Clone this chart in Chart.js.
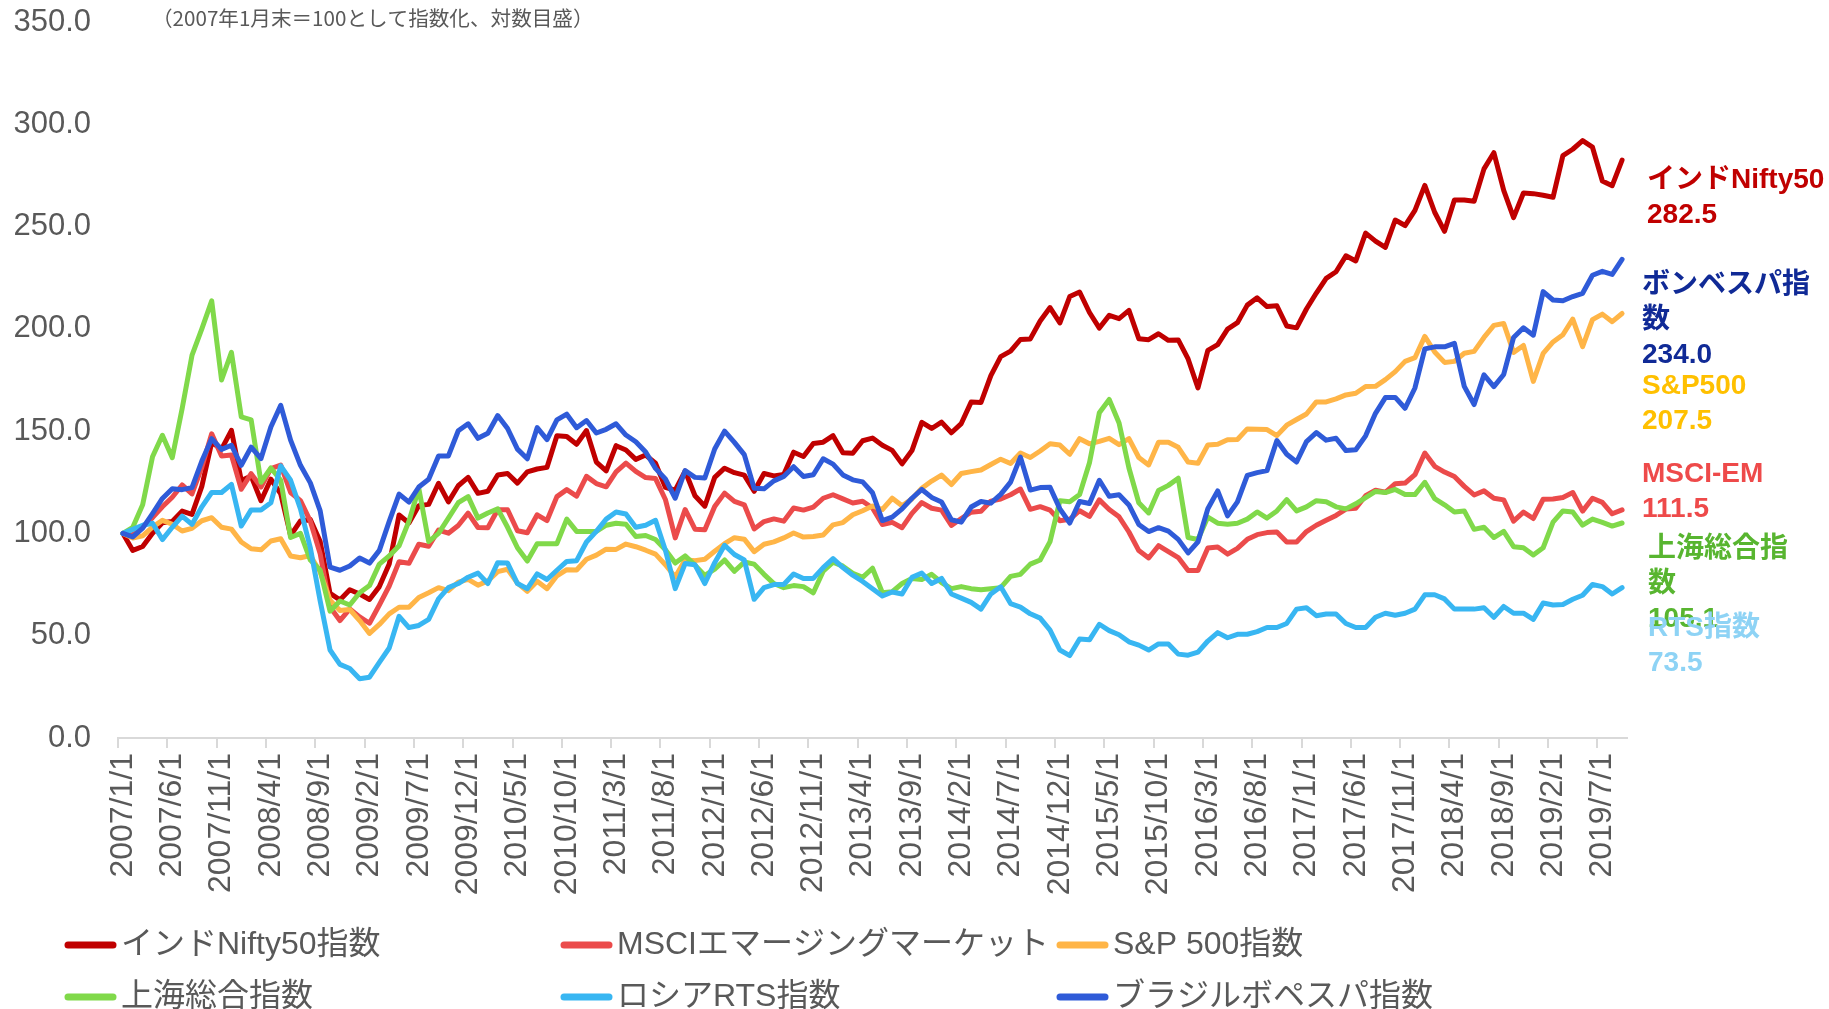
<!DOCTYPE html>
<html lang="ja">
<head>
<meta charset="utf-8">
<title>主要株価指数の推移</title>
<script src="https://cdn.jsdelivr.net/npm/chart.js@4.4.1/dist/chart.umd.min.js"></script>
<style>
  html, body { margin: 0; padding: 0; background: #fff; }
  #wrap { width: 1829px; height: 1009px; }
</style>
</head>
<body>
<div id="wrap"><canvas id="chart" width="1829" height="1009"></canvas></div>
<script>
// monthly categories 2007/1 .. 2019/9
const startYear = 2007, monthCount = 153;
const months = [];
for (let i = 0; i < monthCount; i++) {
  months.push(`${startYear + Math.floor(i / 12)}/${(i % 12) + 1}/1`);
}

const subtitle = "（2007年1月末＝100として指数化、対数目盛）";
const legendNames = ["インドNifty50指数", "MSCIエマージングマーケット", "S&P 500指数", "上海総合指数", "ロシアRTS指数", "ブラジルボペスパ指数"];

const nifty = [
  100, 91.7, 93.6, 100.1, 105.2, 105.8, 110.9, 109.3, 123, 144.5,
  141.2, 150.4, 125.8, 128, 116, 126.5, 119.3, 99, 106.1, 106.8,
  96, 70.7, 67.5, 72.5, 70.4, 67.7, 74, 85.1, 109, 105.1,
  113.6, 114.2, 124.5, 115.4, 123.3, 127.4, 119.6, 120.6, 128.6, 129.3,
  124.6, 130.1, 131.5, 132.3, 147.7, 147.4, 143.6, 150.3, 134.9, 130.6,
  142.9, 140.8, 136.2, 138.3, 134.3, 122.5, 121.1, 130.5, 118.4, 113.3,
  127.4, 131.9, 129.7, 128.5, 120.6, 129.3, 128.1, 128.8, 139.7, 137.6,
  144, 144.6, 147.8, 139.4, 139.2, 145.3, 146.6, 143.1, 140.6, 134,
  140.5, 154.3, 151.3, 154.4, 149.2, 153.7, 164.2, 164, 177.1, 186.4,
  189.1, 194.8, 195.1, 203.8, 210.4, 202.9, 215.8, 218, 208, 200.4,
  206.6, 205, 209, 195.2, 194.7, 197.6, 194.4, 194.6, 185.3, 171.1,
  189.5, 192.3, 199.9, 203, 211.6, 215.2, 210.9, 211.3, 201.4, 200.5,
  209.7, 217.5, 224.7, 227.9, 235.7, 233.2, 246.8, 242.9, 239.8, 253.2,
  250.5, 257.9, 270.1, 257, 247.7, 263, 263, 262.4, 278.2, 286.1,
  267.7, 254.4, 266.4, 266.1, 265.3, 264.3, 284.7, 287.8, 292, 288.8,
  272.3, 270, 282.5
];

const msciEm = [
  100, 99.3, 103, 107.7, 113, 117.7, 123.7, 119.3, 132.4, 148.7,
  137.8, 138.3, 121.6, 129.2, 122.7, 131.7, 133.4, 120, 116, 106,
  90, 64, 57.4, 63.1, 59.2, 56.1, 65, 74.3, 86.2, 85.4,
  94.7, 93.7, 101.6, 100.1, 103.9, 109.9, 102.9, 102.8, 111.6, 111.6,
  101.3, 100.3, 109.1, 106.3, 118, 121.4, 118.2, 127.9, 124.4, 122.8,
  130.1, 134.4, 130.3, 127.3, 126.8, 116.6, 97.8, 111.7, 102.1, 101.8,
  113.2, 119.7, 115.7, 114, 102.2, 105.8, 107.1, 106, 112.4, 111.4,
  112.9, 117.2, 118.9, 116.9, 114.9, 115.7, 112.4, 104.4, 105.4, 102.8,
  109.8, 115.1, 112.3, 111.4, 103.9, 107.3, 110.4, 110.8, 115.8, 116.8,
  118.9, 121.7, 111.8, 113.1, 111.4, 106.2, 106.9, 111.1, 108.3, 116.4,
  111.7, 108.1, 100.7, 91.6, 88, 94, 91.1, 88.2, 81.9, 81.9,
  92.9, 93.4, 89.9, 92.7, 97.1, 99.4, 100.4, 100.7, 95.8, 95.8,
  100.9, 104, 106.4, 108.8, 111.9, 112.3, 118.4, 121.1, 120.1, 124.3,
  124.6, 128.7, 139.3, 132.8, 130, 127.8, 123, 118.8, 120.8, 117.2,
  116.4, 106, 110.4, 107.3, 116.7, 116.8, 117.6, 120, 110.9, 117.2,
  115.2, 109.6, 111.5
];

const sp500 = [
  100, 97.8, 98.8, 103.1, 106.4, 104.5, 101.2, 102.5, 106.2, 107.7,
  103, 102.1, 95.8, 92.5, 92, 96.3, 97.4, 89, 88.1, 89.2,
  81.1, 67.4, 62.3, 62.8, 57.4, 51.1, 55.5, 60.7, 63.9, 63.9,
  68.7, 71, 73.5, 72, 76.2, 77.5, 74.7, 76.8, 81.3, 82.5,
  75.7, 71.7, 76.6, 73, 79.3, 82.3, 82.1, 87.4, 89.4, 92.3,
  92.2, 94.8, 93.5, 91.8, 89.9, 84.7, 78.7, 87.1, 86.7, 87.4,
  91.3, 95, 97.9, 97.2, 91.1, 94.7, 95.9, 97.8, 100.2, 98.2,
  98.5, 99.2, 104.2, 105.3, 109.1, 111.1, 113.4, 111.7, 117.2, 113.5,
  116.9, 122.1, 125.6, 128.5, 123.9, 129.3, 130.2, 131, 133.7, 136.3,
  134.2, 139.3, 137.1, 140.3, 143.8, 143.2, 138.7, 146.3, 143.8, 145,
  146.5, 143.4, 146.3, 137.1, 133.5, 144.6, 144.6, 142.1, 134.9, 134.3,
  143.2, 143.6, 145.8, 145.9, 151.1, 150.9, 150.8, 147.8, 152.9, 155.7,
  158.4, 164.3, 164.3, 165.8, 167.7, 168.5, 171.8, 171.9, 175.2, 179.1,
  184.1, 185.9, 196.3, 188.7, 183.6, 184.1, 188.1, 189, 195.8, 201.7,
  202.6, 188.5, 191.9, 174.3, 188, 193.6, 197.1, 204.8, 191.3, 204.5,
  207.2, 203.5, 207.5
];

const shanghai = [
  100, 103, 114, 137.5, 148, 137, 161, 187, 200, 213.7,
  175, 188.5, 157, 155.5, 125, 132, 126, 98, 100, 87,
  82, 62, 67, 65, 71, 74.5, 85, 89, 94, 106,
  122, 96, 100, 107.5, 115, 118, 107.5, 110, 112, 103,
  93, 86.5, 95, 95, 95, 107, 101, 101, 101, 104,
  105, 104.5, 98.5, 99, 97, 92, 85.5, 89, 84.5, 79.5,
  82.5, 87, 81.5, 86, 85, 80, 75.5, 73.5, 74.5, 74,
  71, 81.5, 86, 84, 80.5, 78.5, 83, 71, 71.5, 75.5,
  78, 77.5, 80, 76, 73, 74, 73, 72.5, 73, 73.5,
  79, 80, 85, 87, 96, 116, 115.5, 119, 134.5, 159,
  165.5, 154, 132, 115, 110, 121, 123.5, 127, 98, 97,
  108, 105, 104.5, 105, 107, 110.5, 107.5, 111, 116.5, 111,
  113, 116, 115.5, 113, 112, 114.5, 117.5, 120.5, 120, 121.5,
  119, 119, 125, 117, 114, 110.5, 111, 102, 103, 98,
  101, 93.5, 93, 89.5, 93, 105.5, 111, 110.5, 104, 107,
  105.4, 103.6, 105.1
];

const rts = [
  100, 102, 104, 105, 97, 103, 108.5, 104.4, 113, 120,
  120, 124, 103.6, 111.5, 111.5, 115, 133, 126, 112, 93,
  67, 43, 36, 34, 29, 29.7, 37, 44, 59.5, 54,
  55, 58, 68, 73.5, 75.5, 78.6, 80.6, 75.5, 85.7, 85.5,
  75.5, 73, 80.2, 77.5, 82, 86.3, 86.7, 95.8, 101, 107,
  110.5, 109.5, 103, 104, 106.4, 91.8, 73, 85.3, 84.7, 75.5,
  85.7, 94.2, 89.7, 87, 67.8, 73.5, 75, 75, 80.2, 78,
  78, 83.3, 87.7, 83.3, 79.6, 76.5, 73, 69.4, 71.4, 70.4,
  78.5, 80.6, 75.5, 78, 70.4, 68.4, 66.3, 63, 70.4, 73.9,
  65.7, 64, 60.7, 58.6, 52.7, 43, 40.3, 48.4, 48, 55.6,
  52.5, 50.5, 47, 45.4, 43, 46, 46, 41, 40.5, 42,
  47.4, 51.5, 49, 50.7, 50.7, 52, 54, 54, 56, 63,
  63.7, 59.8, 60.6, 60.6, 56, 54, 54, 59, 61, 60,
  61, 63, 70, 70, 68, 63, 63, 63, 63.7, 59,
  64.3, 61, 61, 58, 66, 65, 65.3, 67.8, 69.8, 75,
  74, 70.4, 73.5
];

const bovespa = [
  100, 98.3, 102.6, 109.7, 117.1, 121.8, 121.4, 122.4, 135.4, 146.3,
  141.1, 143.1, 133.3, 142.2, 136.6, 152, 162.6, 145.6, 133.3, 124.7,
  111, 83.5, 82, 84.1, 88, 85.5, 91.7, 105.9, 119.2, 115.3,
  122.7, 126.5, 137.8, 137.9, 150.2, 153.6, 146.5, 149, 157.6, 151.3,
  141.2, 136.5, 151.7, 145.9, 155.5, 158.3, 151.7, 155.2, 149.1, 150.9,
  153.6, 148.1, 144.8, 139.8, 131.8, 126.6, 117.2, 130.7, 127.4, 127.1,
  141.3, 150, 144.5, 138.5, 122.1, 121.8, 125.7, 127.8, 132.6, 127.8,
  128.7, 136.5, 133.9, 128.6, 126.2, 125.2, 119.9, 106.3, 108, 112,
  117.2, 121.5, 117.6, 115.4, 106.7, 105.5, 112.9, 115.6, 114.8, 119.1,
  125.1, 137.3, 121.2, 122.4, 122.6, 112, 105.1, 115.6, 114.6, 126,
  118.2, 118.9, 113.9, 104.4, 100.9, 102.8, 101.1, 97.1, 90.5, 95.9,
  112.1, 120.8, 108.6, 115.4, 128.4, 129.7, 130.7, 145.4, 138.7, 134.9,
  144.9, 149.3, 145.6, 146.5, 140.5, 140.9, 147.7, 158.7, 166.4, 166.5,
  161.2, 171.1, 190.2, 191.2, 191.2, 192.9, 171.9, 163, 177.5, 171.8,
  177.7, 195.8, 200.5, 196.9, 218.2, 214.1, 213.7, 215.8, 217.4, 226.2,
  228.1, 226.6, 234.0
];

// right-hand value labels (dataset index, wrapped name lines, colour, offsets from last point)
const endLabels = [
  { ds: 0, text: ["インドNifty50"], color: "#c00000", dx: 20, dy: 20 },
  { ds: 5, text: ["ボンベスパ指", "数"], color: "#102a96", dx: 15, dy: 26 },
  { ds: 2, text: ["S&P500"], color: "#ffc000", dx: 15, dy: 73 },
  { ds: 1, text: ["MSCI-EM"], color: "#ee4a4a", dx: 15, dy: -36 },
  { ds: 3, text: ["上海総合指", "数"], color: "#58b530", dx: 21, dy: 26 },
  { ds: 4, text: ["RTS指数"], color: "#8ed3f5", dx: 21, dy: 41 }
];

const FONT = '"Liberation Sans", "Noto Sans CJK JP", sans-serif';
Chart.defaults.font.family = FONT;
Chart.defaults.color = "#595959";

const decor = {
  id: "decor",
  afterDraw(c) {
    const ctx = c.ctx, area = c.chartArea, ys = c.scales.y;
    ctx.save();
    ctx.textBaseline = "middle";
    ctx.textAlign = "left";

    ctx.fillStyle = "#595959";
    ctx.font = '20.6px "Noto Sans CJK JP", sans-serif';
    ctx.fillText(subtitle, area.left + 34, 18);

    ctx.font = "bold 28px " + FONT;
    endLabels.forEach(lab => {
      const data = c.data.datasets[lab.ds].data;
      const last = data[data.length - 1];
      const lines = lab.text.concat([last.toFixed(1)]);
      const y0 = ys.getPixelForValue(last) + lab.dy;
      ctx.fillStyle = lab.color;
      lines.forEach((t, i) => ctx.fillText(t, area.right + lab.dx, y0 + i * 35));
    });

    // legend: 3 columns x 2 rows
    const cols = [64, 560, 1056], rows = [945, 997];
    ctx.font = "32px " + FONT;
    c.data.datasets.forEach((ds, i) => {
      const x = cols[i % 3], y = rows[Math.floor(i / 3)];
      ctx.strokeStyle = ds.borderColor;
      ctx.lineWidth = 7;
      ctx.lineCap = "round";
      ctx.beginPath();
      ctx.moveTo(x + 4, y);
      ctx.lineTo(x + 49, y);
      ctx.stroke();
      ctx.fillStyle = "#595959";
      ctx.fillText(ds.label, x + 57, y);
    });
    ctx.restore();
  }
};

const lineStyle = { borderWidth: 5, pointRadius: 0, pointHoverRadius: 0, tension: 0, fill: false, borderJoinStyle: "round", borderCapStyle: "round" };

const chart = new Chart(document.getElementById("chart"), {
  type: "line",
  data: {
    labels: months,
    datasets: [
      { ...lineStyle, label: legendNames[0], data: nifty, borderColor: "#c00000", backgroundColor: "#c00000", order: 6 },
      { ...lineStyle, label: legendNames[1], data: msciEm, borderColor: "#eb4b4b", backgroundColor: "#eb4b4b", order: 5 },
      { ...lineStyle, label: legendNames[2], data: sp500, borderColor: "#ffb547", backgroundColor: "#ffb547", order: 4 },
      { ...lineStyle, label: legendNames[3], data: shanghai, borderColor: "#80d94a", backgroundColor: "#80d94a", order: 3 },
      { ...lineStyle, label: legendNames[4], data: rts, borderColor: "#38b6f2", backgroundColor: "#38b6f2", order: 2 },
      { ...lineStyle, label: legendNames[5], data: bovespa, borderColor: "#2f5bd8", backgroundColor: "#2f5bd8", order: 1 }
    ]
  },
  options: {
    responsive: false,
    animation: false,
    devicePixelRatio: 1,
    layout: { padding: { top: 22, right: 202, left: 0, bottom: 0 } },
    plugins: {
      legend: { display: false },
      title: { display: false },
      tooltip: { enabled: false }
    },
    scales: {
      x: {
        type: "category",
        offset: true,
        grid: {
          display: true,
          offset: true,
          drawOnChartArea: false,
          drawTicks: true,
          tickLength: 10,
          lineWidth: 2,
          color: ctx => (ctx.index % 5 === 0 ? "#d9d9d9" : "rgba(0,0,0,0)")
        },
        border: { display: true, color: "#d9d9d9", width: 2 },
        ticks: {
          autoSkip: false,
          minRotation: 90,
          maxRotation: 90,
          padding: 5,
          color: "#595959",
          font: { size: 32 },
          callback: function (val, i) { return i % 5 === 0 ? this.getLabelForValue(val) : ""; }
        },
        afterFit: s => { s.height = 271; s.paddingLeft = 0; s.paddingRight = 0; }
      },
      y: {
        type: "linear",
        min: 0,
        max: 350,
        grid: { display: false, drawTicks: false },
        border: { display: false },
        ticks: {
          stepSize: 50,
          padding: 27,
          color: "#595959",
          font: { size: 31 },
          callback: v => v.toFixed(1)
        },
        afterFit: s => { s.width = 118; s.paddingTop = 0; s.paddingBottom = 0; }
      }
    }
  },
  plugins: [decor]
});
</script>
</body>
</html>
